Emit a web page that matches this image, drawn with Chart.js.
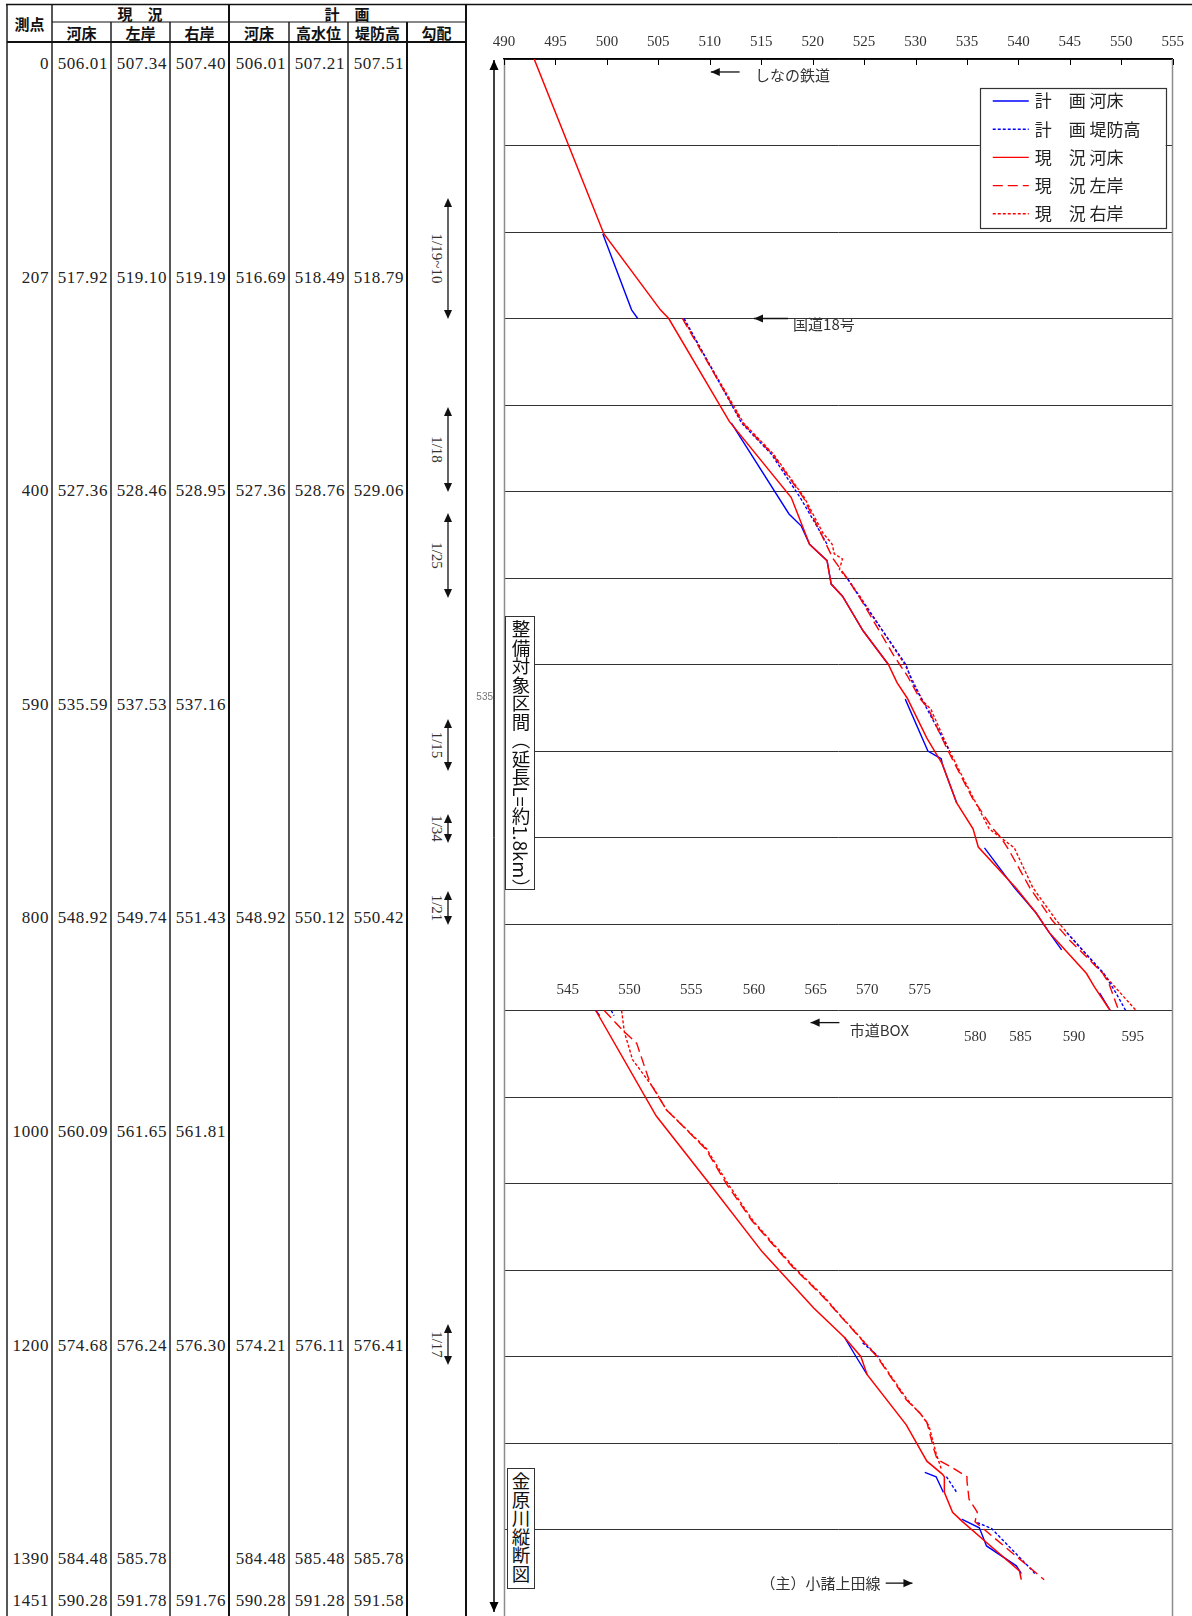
<!DOCTYPE html>
<html lang="ja">
<head>
<meta charset="utf-8">
<title>金原川縦断図</title>
<script src="https://cdn.jsdelivr.net/npm/chart.js@4.4.0/dist/chart.umd.min.js"></script>
<style>
  body { margin: 0; background: #fff; }
  #page { position: relative; width: 1192px; height: 1616px; overflow: hidden; }
  #frame { position: absolute; left: 0; top: 0; }
  #plot { position: absolute; left: 466px; top: 0; width: 726px; height: 1616px; }
  .vbox {
    position: absolute; box-sizing: border-box;
    writing-mode: vertical-rl;
    font-family: "Noto Sans CJK JP", sans-serif; font-size: 18.5px; line-height: 27px;
    color: #111; background: #fff; border: 1.5px solid #333;
    padding-top: 3px;
  }
  .hd { font-family: "Noto Sans CJK JP", sans-serif; font-size: 15px; font-weight: bold; fill: #111; }
  .num { font-family: "Liberation Serif", serif; font-size: 17px; letter-spacing: 0.6px; fill: #222; }
  .slope { font-family: "Liberation Serif", serif; font-size: 15px; fill: #333; }
</style>
</head>
<body>
<div id="page">
  <svg id="frame" width="1192" height="1616"></svg>
  <div id="plot"><canvas id="profile" width="726" height="1616"></canvas></div>
  <div class="vbox" style="left:505px;top:616px;width:30px;height:274px">整備対象区間（延長L=約1.8km）</div>
  <div class="vbox" style="left:507px;top:1468px;width:28px;height:121px">金原川縦断図</div>
</div>
<script>
// ---------- table values ----------
const stations  = ['0', '207', '400', '590', '800', '1000', '1200', '1390', '1451'];
const nowBed    = ['506.01', '517.92', '527.36', '535.59', '548.92', '560.09', '574.68', '584.48', '590.28'];
const nowLeft   = ['507.34', '519.10', '528.46', '537.53', '549.74', '561.65', '576.24', '585.78', '591.78'];
const nowRight  = ['507.40', '519.19', '528.95', '537.16', '551.43', '561.81', '576.30', '', '591.76'];
const planBedT  = ['506.01', '516.69', '527.36', '', '548.92', '', '574.21', '584.48', '590.28'];
const planHwl   = ['507.21', '518.49', '528.76', '', '550.12', '', '576.11', '585.48', '591.28'];
const planLevT  = ['507.51', '518.79', '529.06', '', '550.42', '', '576.41', '585.78', '591.58'];
const slopeLabels = ['1/19~10', '1/18', '1/25', '1/15', '1/34', '1/21', '1/17'];

// ---------- profile values (distance m, elevation m) ----------
// sheet A: upper part (to 800 m), sheet B: lower part, drawn 50 m to the left
const bedDistA = [-300, -198, -98, -10, 0, 119, 207, 261, 280, 307, 321, 361, 400, 421, 439, 485, 515, 560, 590, 611, 659, 687, 710, 727, 757, 773, 800];
const bedA     = [492.93, 496.35, 499.7, 505.2, 506.01, 511.9, 517.92, 519.7, 521.4, 521.8, 522.9, 524.9, 527.36, 528.2, 529.2, 531.1, 532.6, 534.0, 535.59, 536.1, 539.8, 541.7, 543.0, 544.3, 546.6, 547.4, 548.92];
const bedDistB = [800, 922, 1002, 1079, 1144, 1178, 1200, 1221, 1279, 1321, 1336, 1339, 1357, 1380, 1390, 1415, 1448, 1458];
const bedB     = [548.92, 554.8, 560.09, 565.1, 570.1, 573.1, 574.68, 575.3, 579.1, 581.1, 582.6, 582.8, 582.8, 583.6, 584.48, 586.9, 590.1, 590.28];

const leftDistA = [0, 121, 157, 207, 246, 278, 301, 323, 388, 400, 413, 439, 450, 496, 554, 590, 600, 615, 658, 696, 719, 757, 769, 800];
const leftA     = [507.34, 513.2, 516.1, 519.10, 520.7, 522.0, 523.4, 524.6, 527.8, 528.46, 529.2, 530.4, 531.2, 533.0, 535.5, 537.53, 538.3, 539.1, 541.1, 543.3, 545.0, 548.2, 548.8, 549.74];
const leftDistB = [800, 823, 838, 884, 915, 960, 1001, 1043, 1097, 1132, 1148, 1200, 1250, 1265, 1276, 1308, 1319, 1328, 1339, 1344, 1365, 1380, 1391, 1458];
const leftB     = [549.74, 551.55, 552.9, 554.2, 555.8, 559.6, 561.65, 564.1, 568.1, 571.1, 572.3, 576.24, 579.1, 580.4, 581.1, 581.8, 582.1, 583.5, 585.0, 585.0, 585.2, 586.0, 585.78, 592.5];

const rightDistA = [0, 121, 157, 207, 248, 261, 272, 278, 290, 301, 323, 400, 442, 452, 500, 554, 590, 612, 658, 696, 757, 800];
const rightA     = [507.40, 513.3, 516.2, 519.19, 521.0, 521.9, 522.1, 522.9, 522.6, 523.4, 524.7, 528.95, 530.7, 531.5, 533.3, 535.6, 537.16, 539.6, 541.4, 543.7, 548.2, 551.43];
const rightDistB = [800, 825, 857, 889, 915, 960, 1001, 1043, 1097, 1132, 1150, 1200, 1250, 1268, 1280, 1312, 1330];
const rightB     = [551.43, 551.7, 552.5, 554.5, 555.8, 559.7, 561.81, 564.2, 568.2, 571.2, 572.5, 576.30, 579.2, 580.6, 581.3, 582.0, 582.5];

const levDistA = [0, 121, 157, 207, 244, 261, 280, 301, 323, 400, 421, 442, 500, 600, 710, 748, 757, 780, 800];
const levA     = [507.51, 513.1, 516.0, 518.79, 520.6, 521.4, null, 523.4, 524.6, 529.06, 529.7, 530.7, 533.3, null, 544.7, 547.6, 548.3, 549.5, 550.42];
const levDistB = [800, 806, 1000, 1184, 1200, 1300, 1339, 1357, 1375, 1392, 1399, 1448, 1451];
const levB     = [550.42, 550.7, null, 574.85, 576.41, null, 583.0, 584.0, null, 586.0, 587.4, 591.4, 591.58];

const pbedDistA = [-98, -10, 0, 60, 121, 226, 240, 261, 280, 307, 321, 361, 400, 420, 440, 500, 509, 515, 560, 590, 612, 658, 687, 710, 730, 760, 780, 800];
const pbedA     = [499.6, 502.4, 503.0, null, 512.1, 517.7, 518.9, 519.7, 521.4, 521.8, 522.9, 524.9, 527.36, null, 529.0, 531.2, 532.5, 532.6, 534.0, null, 536.7, 539.6, 541.7, 543.0, 544.2, null, 547.9, 548.92];
const pbedDistB = [800, 806, 1000, 1178, 1200, 1221, 1280, 1334, 1339, 1357, 1370, 1388, 1398, 1419, 1442, 1451];
const pbedB     = [548.92, 549.3, null, 573.1, 574.21, 575.3, null, 580.9, 582.0, 582.7, null, 584.48, 586.2, 586.9, 589.8, 590.28];

// tick labels of the lower sheet (elevation)
const lowerTickLabels = ['545', '550', '555', '560', '565', '570', '575', '580', '585', '590', '595'];

// ---------- left table ----------
const NS = 'http://www.w3.org/2000/svg';
const svg = document.getElementById('frame');
function add(tag, attrs, text) {
  const e = document.createElementNS(NS, tag);
  for (const k in attrs) e.setAttribute(k, attrs[k]);
  if (text !== undefined) e.textContent = text;
  svg.appendChild(e);
  return e;
}
function rule(x1, y1, x2, y2, w) {
  add('line', { x1: x1, y1: y1, x2: x2, y2: y2, stroke: '#111', 'stroke-width': w });
}
const colX = [7, 52, 111, 170, 229, 289, 348, 407, 466];
const rowY = [63, 277, 490, 704, 917, 1131, 1345, 1558, 1600];

colX.forEach((x, i) => {
  const top = [2, 3, 5, 6, 7].includes(i) ? 22 : 4;
  const w = (i === 4 || i >= 7) ? 2 : 1.4;
  rule(x, top, x, 1616, w);
});
rule(6, 4.5, 1192, 4.5, 1.6);
rule(52, 22, 466, 22, 1.2);
rule(7, 42, 466, 42, 2);

const mid = { 'text-anchor': 'middle', 'dominant-baseline': 'central', class: 'hd' };
add('text', Object.assign({ x: 29.5, y: 23 }, mid), '測点');
add('text', Object.assign({ x: 140, y: 13 }, mid), '現　況');
add('text', Object.assign({ x: 347, y: 13 }, mid), '計　画');
['河床', '左岸', '右岸', '河床', '高水位', '堤防高', '勾配'].forEach((t, i) => {
  add('text', Object.assign({ x: (colX[i + 1] + colX[i + 2]) / 2, y: 32.5 }, mid), t);
});

const columns = [stations, nowBed, nowLeft, nowRight, planBedT, planHwl, planLevT];
rowY.forEach((y, r) => {
  columns.forEach((col, c) => {
    if (!col[r]) return;
    add('text', { x: colX[c + 1] - 3, y: y, 'text-anchor': 'end', 'dominant-baseline': 'central', class: 'num' }, col[r]);
  });
});

// slope column: double arrows with rotated labels
const slopeSpan = [[198, 319], [407, 492], [513, 598], [719, 771], [814, 843], [891, 925], [1324, 1365]];
slopeLabels.forEach((t, i) => {
  const [y1, y2] = slopeSpan[i];
  const ax = 448;
  rule(ax, y1 + 6, ax, y2 - 6, 1.3);
  add('polygon', { points: `${ax},${y1} ${ax - 4},${y1 + 9} ${ax + 4},${y1 + 9}`, fill: '#111' });
  add('polygon', { points: `${ax},${y2} ${ax - 4},${y2 - 9} ${ax + 4},${y2 - 9}`, fill: '#111' });
  const cy = (y1 + y2) / 2;
  add('text', { x: 437, y: cy, transform: `rotate(90 437 ${cy})`, 'text-anchor': 'middle', 'dominant-baseline': 'central', class: 'slope' }, t);
});

// ---------- profile chart ----------
const SHEET_SHIFT = 50;
function toPoints(dist, elev, shift) {
  return dist.map((d, i) => ({ x: elev[i] === null ? null : elev[i] - shift, y: d }));
}

const RED = '#ff0000', BLUE = '#0000ff';
const series = [
  { label: '現　況 河床', color: RED, dash: [], width: 1.5, a: [bedDistA, bedA], b: [bedDistB, bedB] },
  { label: '計　画 河床', color: BLUE, dash: [], width: 1.4, a: [pbedDistA, pbedA], b: [pbedDistB, pbedB] },
  { label: '現　況 左岸', color: RED, dash: [10, 5], width: 1.4, a: [leftDistA, leftA], b: [leftDistB, leftB] },
  { label: '計　画 堤防高', color: BLUE, dash: [3, 2], width: 1.4, a: [levDistA, levA], b: [levDistB, levB] },
  { label: '現　況 右岸', color: RED, dash: [3, 2], width: 1.4, a: [rightDistA, rightA], b: [rightDistB, rightB] }
];
const legendOrder = ['計　画 河床', '計　画 堤防高', '現　況 河床', '現　況 左岸', '現　況 右岸'];

const datasets = [];
series.forEach(s => {
  [[s.a, 0], [s.b, SHEET_SHIFT]].forEach(([pair, shift]) => {
    datasets.push({
      label: s.label,
      data: toPoints(pair[0], pair[1], shift),
      borderColor: s.color,
      borderWidth: s.width,
      borderDash: s.dash,
      pointRadius: 0,
      tension: 0,
      fill: false,
      spanGaps: false
    });
  });
});

function arrowLine(ctx, x1, y1, x2, y2, head) {
  ctx.beginPath(); ctx.moveTo(x1, y1); ctx.lineTo(x2, y2); ctx.stroke();
  const a = Math.atan2(y2 - y1, x2 - x1);
  const bx = x2 - head * Math.cos(a), by = y2 - head * Math.sin(a);
  const w = head * 0.45;
  ctx.beginPath();
  ctx.moveTo(x2, y2);
  ctx.lineTo(bx + w * Math.sin(a), by - w * Math.cos(a));
  ctx.lineTo(bx - w * Math.sin(a), by + w * Math.cos(a));
  ctx.closePath(); ctx.fill();
}

// arrows with names of crossings (positions in chart units)
const notes = [
  { text: 'しなの鉄道', d: -285, tail: 512.9, tip: 510.1, at: 514.4, align: 'left', dy: 3 },
  { text: '国道18号', d: 0, tail: 517.6, tip: 514.3, at: 518.1, align: 'left', dy: 6 },
  { text: '市道BOX', d: 814, tail: 522.6, tip: 519.8, at: 523.6, align: 'left', dy: 8 },
  { text: '（主）小諸上田線', d: 1462, tail: 527.1, tip: 529.7, at: 526.6, align: 'right', dy: 0 }
];
const lowerTickAt = [496.2, 502.2, 508.2, 514.3, 520.3, 525.3, 530.4, 535.8, 540.2, 545.4, 551.1];

const decor = {
  id: 'decor',
  afterDraw(chart) {
    const { ctx, chartArea: ca } = chart;
    const xs = chart.scales.x, ys = chart.scales.y;
    const X = v => xs.getPixelForValue(v), Y = d => ys.getPixelForValue(d);
    ctx.save();

    // side frame of the plot
    ctx.strokeStyle = '#8c8c8c'; ctx.lineWidth = 1.5;
    ctx.beginPath();
    ctx.moveTo(Math.round(ca.left) + 0.5, ca.top); ctx.lineTo(Math.round(ca.left) + 0.5, ca.bottom);
    ctx.moveTo(Math.round(ca.right) - 0.5, ca.top); ctx.lineTo(Math.round(ca.right) - 0.5, ca.bottom);
    ctx.stroke();

    // inner tick marks of the top axis
    ctx.strokeStyle = '#000'; ctx.lineWidth = 1;
    ctx.beginPath();
    xs.ticks.forEach(t => {
      const px = Math.round(X(t.value)) + 0.5;
      ctx.moveTo(px, ca.top); ctx.lineTo(px, ca.top + 6);
    });
    ctx.stroke();

    // 1.8 km span arrow
    ctx.fillStyle = '#000'; ctx.strokeStyle = '#000'; ctx.lineWidth = 1.5;
    const sx = ca.left - 10;
    arrowLine(ctx, sx, Y(600), sx, Y(-300) + 1, 10);
    arrowLine(ctx, sx, Y(600), sx, ca.bottom - 4, 10);

    // stray label left of the frame
    ctx.font = '10px "Liberation Sans", sans-serif';
    ctx.fillStyle = '#777'; ctx.textAlign = 'right'; ctx.textBaseline = 'middle';
    ctx.fillText('535', ca.left - 11, Y(438));

    // crossing notes
    ctx.font = '15px "Noto Sans CJK JP", sans-serif';
    ctx.lineWidth = 1.3;
    notes.forEach(n => {
      const yy = Y(n.d);
      ctx.strokeStyle = '#111'; ctx.fillStyle = '#111';
      arrowLine(ctx, X(n.tail), yy, X(n.tip), yy, 9);
      ctx.fillStyle = '#333';
      ctx.textAlign = n.align; ctx.textBaseline = 'middle';
      ctx.fillText(n.text, X(n.at), yy + n.dy);
    });

    // tick labels of the lower sheet
    ctx.font = '15px "Liberation Serif", serif';
    ctx.fillStyle = '#333'; ctx.textAlign = 'center'; ctx.textBaseline = 'middle';
    const yb = Y(800);
    lowerTickLabels.forEach((t, i) => {
      ctx.fillText(t, X(lowerTickAt[i]), i < 7 ? yb - 20 : yb + 27);
    });

    // legend box
    const lx = ca.right - 193, ly = ca.top + 29, lw = 186, lh = 140;
    ctx.fillStyle = '#fff'; ctx.fillRect(lx, ly, lw, lh);
    ctx.strokeStyle = '#333'; ctx.lineWidth = 1.2;
    ctx.strokeRect(Math.round(lx) + 0.5, Math.round(ly) + 0.5, lw, lh);
    ctx.font = '17px "Noto Sans CJK JP", sans-serif';
    ctx.textAlign = 'left'; ctx.textBaseline = 'middle';
    legendOrder.forEach((name, i) => {
      const s = series.find(q => q.label === name);
      const ry = ly + 13 + i * 28.2;
      ctx.strokeStyle = s.color; ctx.lineWidth = 1.4; ctx.setLineDash(s.dash);
      ctx.beginPath(); ctx.moveTo(lx + 13, ry); ctx.lineTo(lx + 49, ry); ctx.stroke();
      ctx.setLineDash([]);
      ctx.fillStyle = '#222';
      ctx.fillText(name, lx + 55, ry);
    });
    ctx.restore();
  }
};

new Chart(document.getElementById('profile'), {
  type: 'line',
  data: { datasets: datasets },
  options: {
    responsive: false,
    animation: false,
    devicePixelRatio: 1,
    layout: { padding: { left: 38, right: 18, top: 0, bottom: 0 } },
    plugins: { legend: { display: false }, tooltip: { enabled: false } },
    scales: {
      x: {
        type: 'linear', position: 'top', min: 490, max: 555,
        ticks: { stepSize: 5, padding: 8, color: '#333', font: { family: '"Liberation Serif", serif', size: 15 } },
        grid: { drawOnChartArea: false, drawTicks: false },
        border: { display: true, color: '#000', width: 1.5 },
        afterFit(s) { s.height = 59; }
      },
      y: {
        type: 'linear', reverse: true, min: -300, max: 1500,
        ticks: { stepSize: 100, display: false },
        grid: { color: '#333', lineWidth: 1, drawTicks: false },
        border: { display: false },
        afterFit(s) { s.width = 0; }
      }
    }
  },
  plugins: [decor]
});
</script>
</body>
</html>
